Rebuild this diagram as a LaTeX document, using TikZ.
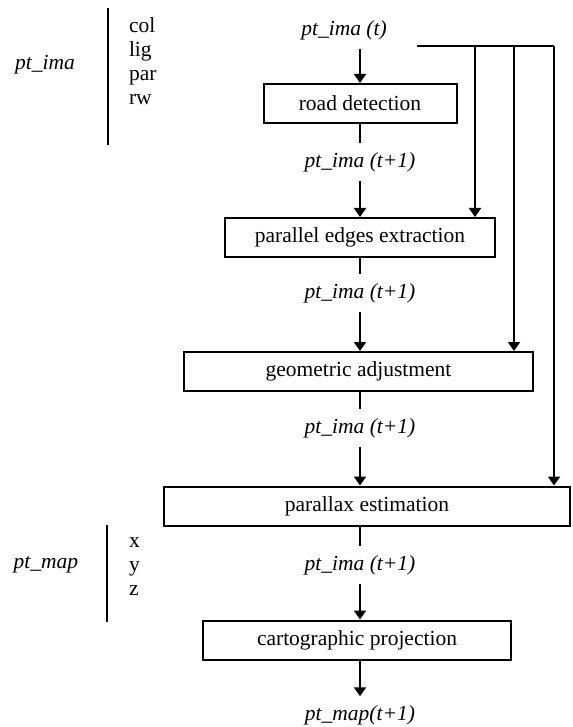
\documentclass[tikz,border=0pt]{standalone}
\usepackage{fontspec}
\setmainfont{Liberation Serif}
\usepackage{tikz}
\usetikzlibrary{arrows.meta,positioning}

\begin{document}
\begin{tikzpicture}[x=0.5pt,y=-0.5pt,>={Triangle[width=6pt,length=4.5pt]},line width=1pt,
  stepbox/.style={draw,line width=1pt,minimum height=19.5pt,inner sep=2pt,font=\fontsize{10.75}{12}\selectfont},
  flowlabel/.style={inner sep=4pt,font=\fontsize{10.75}{12}\selectfont\itshape},
  varlist/.style={align=left,anchor=west,inner sep=0pt,font=\fontsize{10.75}{12}\selectfont}]
\useasboundingbox (0,0) rectangle (572,727);
% main chain
\node[flowlabel] (ptt) at (344,30) {pt\_ima (t)};
\node[stepbox,minimum width=96.5pt] (road) at (360,103.5) {road detection};
\node[flowlabel] (lab1) at (360,162) {pt\_ima (t+1)};
\node[stepbox,minimum width=135pt] (par) at (360,237.5) {parallel edges extraction};
\node[flowlabel] (lab2) at (360,293) {pt\_ima (t+1)};
\node[stepbox,minimum width=174.5pt] (geo) at (358.5,371.5) {geometric adjustment};
\node[flowlabel] (lab3) at (360,428) {pt\_ima (t+1)};
\node[stepbox,minimum width=203pt] (plx) at (367,506) {parallax estimation};
\node[flowlabel] (lab4) at (360,565) {pt\_ima (t+1)};
\node[stepbox,minimum width=154pt] (carto) at (357,640) {cartographic projection};
\node[flowlabel] (ptout) at (360,715) {pt\_map(t+1)};
\draw[->] (ptt.south -| road.north) -- (road.north);
\draw (road.south) -- (lab1.north);
\draw[->] (lab1.south) -- (par.north);
\draw (par.south) -- (lab2.north);
\draw[->] (lab2.south) -- (lab2.south |- geo.north);
\draw (geo.south -| lab3.north) -- (lab3.north);
\draw[->] (lab3.south) -- (lab3.south |- plx.north);
\draw (plx.south -| lab4.north) -- (lab4.north);
\draw[->] (lab4.south) -- (lab4.south |- carto.north);
\draw[->] (carto.south -| ptout.north) -- (ptout.north);
% feed of pt_ima (t) on the right
\coordinate (bus) at (417,46);
\coordinate (tap1) at (475,46);
\coordinate (tap2) at (514,46);
\coordinate (tap3) at (554,46);
\draw (bus) -- (tap3);
\draw[->] (tap1) -- (tap1 |- par.north);
\draw[->] (tap2) -- (tap2 |- geo.north);
\draw[->] (tap3) -- (tap3 |- plx.north);
% attribute lists
\node[flowlabel,inner sep=0pt] (imaname) at (45,65) {pt\_ima};
\coordinate (imatop) at (108,8);
\coordinate (imabot) at (108,145);
\draw (imatop) -- (imabot);
\node[varlist] (imavars) at (128,61.5) {col\\lig\\par\\rw};
\node[flowlabel,inner sep=0pt] (mapname) at (46,565) {pt\_map};
\coordinate (maptop) at (107,525);
\coordinate (mapbot) at (107,622);
\draw (maptop) -- (mapbot);
\node[varlist] (mapvars) at (128,567) {x\\y\\z};
\end{tikzpicture}
\end{document}
